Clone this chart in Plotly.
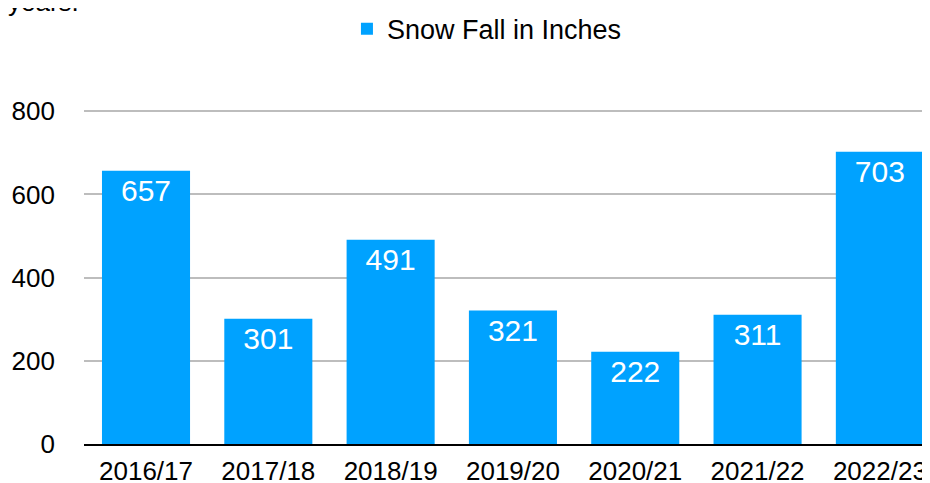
import plotly.graph_objects as go

seasons = ["2016/17", "2017/18", "2018/19", "2019/20", "2020/21", "2021/22", "2022/23"]
snowfall = [657, 301, 491, 321, 222, 311, 703]
series_name = "Snow Fall in Inches"
y_ticks = [0, 200, 400, 600, 800]

FONT = "Liberation Sans, Arial, Helvetica, sans-serif"

fig = go.Figure()
fig.add_trace(go.Bar(
    x=seasons,
    y=snowfall,
    name=series_name,
    marker=dict(color="#00A2FF", line=dict(width=0)),
    text=[str(v) for v in snowfall],
    textposition="inside",
    insidetextanchor="end",
    textangle=0,
    textfont=dict(color="white", size=30, family=FONT),
))

fig.update_layout(
    width=930, height=483,
    margin=dict(l=76, r=13, t=95, b=47, autoexpand=False),
    paper_bgcolor="white",
    plot_bgcolor="white",
    bargap=0.28,
    font=dict(family=FONT, color="black", size=26),
    showlegend=True,
    legend=dict(
        orientation="h",
        x=0.515, xref="container", xanchor="center",
        y=0.956, yref="container", yanchor="middle",
        font=dict(size=27, family=FONT),
        bgcolor="rgba(0,0,0,0)",
    ),
    xaxis=dict(
        type="category",
        range=[-0.507, 6.369],
        showgrid=False,
        showline=True, linecolor="black", linewidth=2,
        ticks="", tickfont=dict(size=26),
        ticklabelstandoff=3,
        automargin=False,
        fixedrange=True,
    ),
    yaxis=dict(
        range=[0, 820],
        tickvals=y_ticks,
        showgrid=True, gridcolor="#BDBDBD", gridwidth=2,
        zeroline=False, showline=False,
        ticks="", tickfont=dict(size=26),
        ticklabelstandoff=28,
        automargin=False,
        fixedrange=True,
    ),
    annotations=[dict(
        text="years.", xref="paper", yref="paper",
        x=0, y=1.0, xshift=-78, yshift=84,
        xanchor="left", yanchor="bottom",
        showarrow=False, font=dict(size=26, family=FONT, color="black"),
    )],
)

fig.write_html("out.html")
